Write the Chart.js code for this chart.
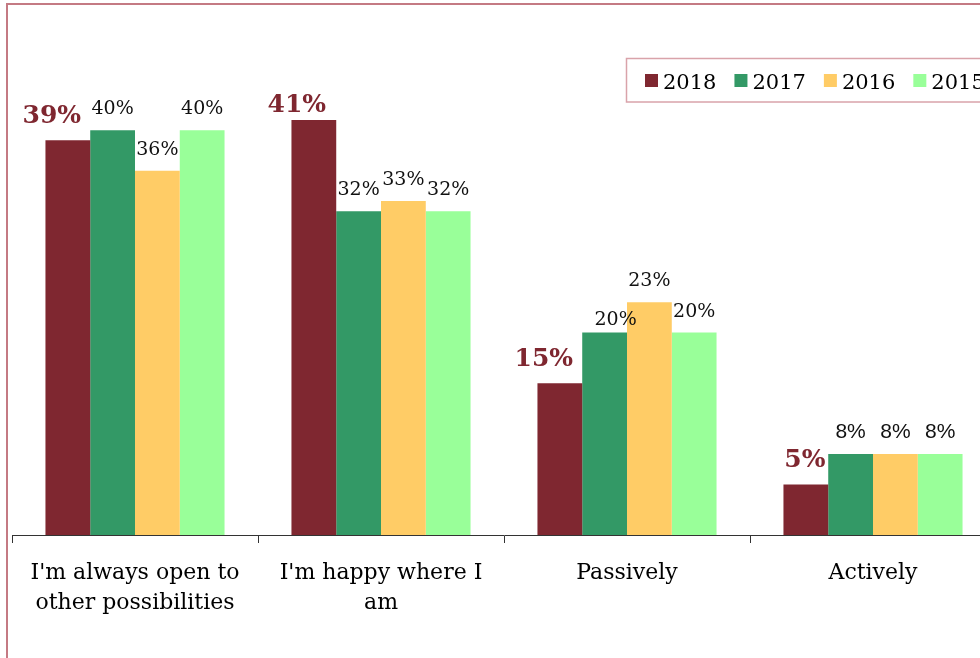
<!DOCTYPE html>
<html>
<head>
<meta charset="utf-8">
<script src="https://cdn.jsdelivr.net/npm/chart.js@4.4.1/dist/chart.umd.min.js"></script>
<style>
    html, body { margin: 0; padding: 0; background: #fff; overflow: hidden; width: 980px; height: 658px; }
    #frame { position: absolute; left: 6px; top: 3px; width: 1100px; height: 800px; border: 2px solid #c47a83; }
    #survey { position: absolute; left: 0; top: 0; }
</style>
</head>
<body>
<div id="frame"></div>
<canvas id="survey" width="1010" height="658"></canvas>
<script>
    var categories = [
        ["I'm always open to", "other possibilities"],
        ["I'm happy where I", "am"],
        "Passively",
        "Actively"
    ];
    var years = ["2018", "2017", "2016", "2015"];
    var values2018 = [39, 41, 15, 5];
    var values2017 = [40, 32, 20, 8];
    var values2016 = [36, 33, 23, 8];
    var values2015 = [40, 32, 20, 8];
    var yearColors = ["#7f2730", "#339966", "#ffcc66", "#99ff99"];

    // hand placed value labels: [dx, gap above bar top]
    var labelNudge = {
        "0-0": [-16, 17], "0-1": [-17, 8], "0-2": [-16, 17], "0-3": [-1, 17],
        "1-2": [11, 8]
    };

    var valueLabels = {
        id: 'valueLabels',
        afterDatasetsDraw: function (chart) {
            var ctx = chart.ctx;
            ctx.save();
            ctx.textAlign = 'center';
            ctx.textBaseline = 'alphabetic';
            chart.data.datasets.forEach(function (ds, d) {
                var meta = chart.getDatasetMeta(d);
                meta.data.forEach(function (bar, i) {
                    var nudge = labelNudge[d + '-' + i] || [0, 16];
                    if (d === 0) {
                        ctx.font = 'bold 25px "DejaVu Serif"';
                        ctx.fillStyle = '#7f2730';
                    } else if (i === 3) {
                        ctx.font = '21px "Liberation Sans"';
                        ctx.fillStyle = '#111';
                    } else {
                        ctx.font = '19px "DejaVu Serif"';
                        ctx.fillStyle = '#111';
                    }
                    ctx.fillText(ds.data[i] + '%', bar.x + nudge[0], bar.y - nudge[1]);
                });
            });
            ctx.restore();
        }
    };

    var boxLegend = {
        id: 'boxLegend',
        afterDraw: function (chart) {
            var ctx = chart.ctx;
            ctx.save();
            ctx.strokeStyle = '#d9a3aa';
            ctx.lineWidth = 1.5;
            ctx.strokeRect(626.5, 58.5, 500, 43.5);
            ctx.font = '21px "DejaVu Serif"';
            ctx.textBaseline = 'alphabetic';
            ctx.textAlign = 'left';
            var x = 645;
            chart.data.datasets.forEach(function (ds) {
                ctx.fillStyle = ds.backgroundColor;
                ctx.fillRect(x, 74, 13, 13);
                ctx.fillStyle = '#000';
                ctx.fillText(ds.label, x + 18, 89);
                x += 18 + ctx.measureText(ds.label).width + 18;
            });
            ctx.restore();
        }
    };

    var series = [values2018, values2017, values2016, values2015];

    new Chart(document.getElementById('survey'), {
        type: 'bar',
        data: {
            labels: categories,
            datasets: years.map(function (y, k) {
                return {
                    label: y,
                    data: series[k],
                    backgroundColor: yearColors[k],
                    borderWidth: 0,
                    barPercentage: 1,
                    categoryPercentage: 0.728
                };
            })
        },
        options: {
            responsive: false,
            animation: false,
            devicePixelRatio: 1,
            layout: { padding: { left: 12, right: 14, top: 29, bottom: 0 } },
            plugins: {
                legend: { display: false },
                tooltip: { enabled: false }
            },
            scales: {
                y: {
                    display: false,
                    min: 0,
                    max: 50
                },
                x: {
                    offset: true,
                    afterFit: function (scale) { scale.height = 123; },
                    border: { display: true, color: '#333', width: 1 },
                    grid: {
                        offset: true,
                        drawOnChartArea: false,
                        drawTicks: true,
                        tickLength: 8,
                        tickColor: '#333'
                    },
                    ticks: {
                        color: '#000',
                        padding: 15,
                        maxRotation: 0,
                        autoSkip: false,
                        font: { family: '"DejaVu Serif"', size: 22, lineHeight: 1.36 }
                    }
                }
            }
        },
        plugins: [valueLabels, boxLegend]
    });
</script>
</body>
</html>
